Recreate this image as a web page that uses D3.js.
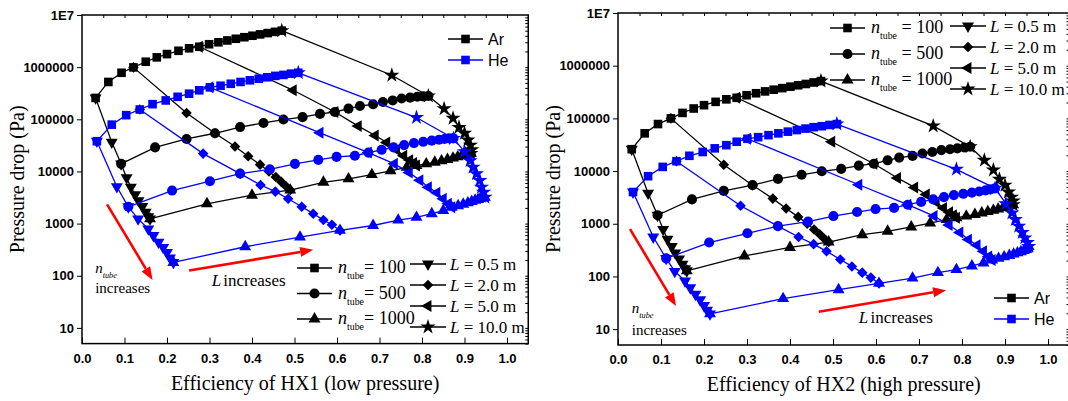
<!DOCTYPE html>
<html>
<head>
<meta charset="utf-8">
<script src="https://cdn.jsdelivr.net/npm/d3@7"></script>
<style>
  body { margin: 0; background: #fff; }
  svg { display: block; }
</style>
</head>
<body>
<svg id="chart" width="1068" height="401"></svg>
<script>
// ---------- Data ----------
// tube length steps of the n_tube curves (m)
const lengths = [0.5, 1, 1.5, 2, 2.5, 3, 3.5, 4, 4.5, 5, 5.5, 6, 6.5, 7, 7.5, 8, 8.5, 9, 9.5, 10];
const nTubes = [100, 500, 1000];
const lengthCurves = [0.5, 2.0, 5.0, 10.0];
const effTicks = [0, 0.1, 0.2, 0.3, 0.4, 0.5, 0.6, 0.7, 0.8, 0.9, 1.0];
const dropTicks = [10, 100, 1000, 10000, 100000, 1000000, 10000000];
const dropLabels = ['10', '100', '1000', '10000', '100000', '1000000', '1E7'];

// HX1 (low pressure) -- [efficiency, pressure drop Pa], one point per length
const hx1ArN100 = [[0.032,2.57e5],[0.062,5.2e5],[0.093,7.8e5],[0.121,9.9e5],[0.150,1.27e6],[0.176,1.54e6],[0.200,1.78e6],[0.227,2.06e6],[0.252,2.3e6],[0.276,2.46e6],[0.299,2.75e6],[0.321,3.0e6],[0.342,3.25e6],[0.362,3.5e6],[0.382,3.75e6],[0.401,4.0e6],[0.419,4.25e6],[0.437,4.5e6],[0.454,4.75e6],[0.470,5.0e6]];
const hx1ArN500 = [[0.092,1.4e4],[0.172,2.9e4],[0.246,4.2e4],[0.313,5.4e4],[0.372,7.1e4],[0.427,8.5e4],[0.474,9.9e4],[0.519,1.1e5],[0.560,1.27e5],[0.595,1.38e5],[0.627,1.6e5],[0.654,1.8e5],[0.685,1.94e5],[0.708,2.15e5],[0.731,2.3e5],[0.752,2.5e5],[0.772,2.6e5],[0.789,2.7e5],[0.803,2.75e5],[0.815,2.8e5]];
const hx1ArN1000 = [[0.160,1.23e3],[0.294,2.4e3],[0.400,3.5e3],[0.490,4.4e3],[0.568,6.2e3],[0.627,7.2e3],[0.682,8.7e3],[0.726,1.03e4],[0.764,1.2e4],[0.787,1.3e4],[0.810,1.4e4],[0.830,1.5e4],[0.846,1.6e4],[0.860,1.7e4],[0.873,1.8e4],[0.884,1.9e4],[0.893,2.0e4],[0.901,2.1e4],[0.908,2.15e4],[0.915,2.2e4]];
// length curves: point at n_tube = 300, then the points between n_tube = 500 and 1000
const hx1ArL05 = [[0.070,3.65e4],[0.105,7.6e3],[0.115,5.0e3],[0.125,3.6e3],[0.133,2.76e3],[0.142,2.13e3],[0.150,1.66e3],[0.156,1.36e3]];
const hx1ArL2 = [[0.246,1.32e5],[0.360,3.0e4],[0.391,1.95e4],[0.419,1.35e4],[0.440,1.0e4],[0.456,7.8e3],[0.469,6.3e3],[0.480,5.2e3]];
const hx1ArL5 = [[0.497,3.6e5],[0.650,7.4e4],[0.690,4.9e4],[0.717,3.6e4],[0.740,2.6e4],[0.757,2.0e4],[0.771,1.65e4],[0.780,1.45e4]];
const hx1ArL10 = [[0.729,7.0e5],[0.852,1.6e5],[0.873,1.05e5],[0.887,7.0e4],[0.900,5.4e4],[0.908,4.0e4],[0.914,3.2e4],[0.917,2.6e4]];

const hx1HeN100 = [[0.035,3.8e4],[0.070,7.9e4],[0.104,1.2e5],[0.136,1.54e5],[0.166,1.95e5],[0.197,2.3e5],[0.225,2.7e5],[0.252,3.1e5],[0.276,3.6e5],[0.301,4.1e5],[0.326,4.4e5],[0.350,4.8e5],[0.373,5.2e5],[0.395,5.6e5],[0.416,6.0e5],[0.436,6.4e5],[0.455,6.8e5],[0.474,7.1e5],[0.492,7.5e5],[0.509,7.8e5]];
const hx1HeN500 = [[0.109,2.1e3],[0.212,4.3e3],[0.301,6.5e3],[0.372,9.1e3],[0.442,1.1e4],[0.501,1.4e4],[0.556,1.67e4],[0.599,1.9e4],[0.642,2.0e4],[0.674,2.3e4],[0.705,2.6e4],[0.733,2.9e4],[0.758,3.2e4],[0.781,3.5e4],[0.803,3.7e4],[0.823,3.9e4],[0.840,4.05e4],[0.853,4.2e4],[0.864,4.3e4],[0.874,4.3e4]];
const hx1HeN1000 = [[0.215,180],[0.384,360],[0.513,550],[0.607,740],[0.685,920],[0.744,1170],[0.787,1320],[0.823,1550],[0.850,1780],[0.870,2050],[0.885,2200],[0.897,2350],[0.908,2500],[0.917,2650],[0.925,2800],[0.932,2900],[0.937,3000],[0.942,3100],[0.946,3150],[0.948,3200]];
const hx1HeL05 = [[0.082,5.1e3],[0.132,1.23e3],[0.156,790],[0.168,590],[0.180,440],[0.191,350],[0.200,280],[0.207,220]];
const hx1HeL2 = [[0.285,2.2e4],[0.420,5.5e3],[0.455,4.1e3],[0.485,3.0e3],[0.517,2.1e3],[0.544,1.55e3],[0.568,1.17e3],[0.588,950]];
const hx1HeL5 = [[0.560,5.5e4],[0.735,1.4e4],[0.770,9.5e3],[0.795,6.8e3],[0.815,5.0e3],[0.835,3.9e3],[0.850,3.0e3],[0.862,2.4e3]];
const hx1HeL10 = [[0.787,1.08e5],[0.900,2.4e4],[0.913,1.6e4],[0.920,1.2e4],[0.928,9.0e3],[0.936,6.7e3],[0.940,5.0e3],[0.945,4.0e3]];

// HX2 (high pressure)
const hx2ArN100 = [[0.032,2.6e4],[0.062,5.2e4],[0.093,7.8e4],[0.123,1.0e5],[0.150,1.27e5],[0.176,1.54e5],[0.200,1.78e5],[0.227,2.06e5],[0.252,2.3e5],[0.276,2.46e5],[0.299,2.75e5],[0.321,3.0e5],[0.342,3.25e5],[0.362,3.5e5],[0.382,3.75e5],[0.401,4.0e5],[0.419,4.25e5],[0.437,4.5e5],[0.455,4.8e5],[0.472,5.1e5]];
const hx2ArN500 = [[0.092,1.45e3],[0.172,2.9e3],[0.246,4.2e3],[0.313,5.4e3],[0.372,7.1e3],[0.427,8.5e3],[0.474,9.9e3],[0.519,1.1e4],[0.560,1.27e4],[0.595,1.38e4],[0.627,1.6e4],[0.654,1.8e4],[0.685,1.94e4],[0.708,2.15e4],[0.731,2.3e4],[0.752,2.5e4],[0.772,2.6e4],[0.789,2.7e4],[0.805,2.8e4],[0.819,2.9e4]];
const hx2ArN1000 = [[0.160,128],[0.294,245],[0.400,355],[0.490,450],[0.568,620],[0.627,720],[0.682,870],[0.726,1030],[0.764,1200],[0.787,1300],[0.810,1400],[0.830,1500],[0.846,1600],[0.860,1700],[0.873,1800],[0.884,1900],[0.895,2000],[0.904,2100],[0.912,2200],[0.919,2300]];
const hx2ArL05 = [[0.070,3.8e3],[0.105,780],[0.115,510],[0.125,370],[0.133,280],[0.142,215],[0.150,170],[0.156,140]];
const hx2ArL2 = [[0.246,1.32e4],[0.360,3.0e3],[0.391,1.95e3],[0.419,1.35e3],[0.440,1.0e3],[0.456,780],[0.469,630],[0.480,520]];
const hx2ArL5 = [[0.497,3.6e4],[0.650,7.4e3],[0.690,4.9e3],[0.717,3.6e3],[0.740,2.6e3],[0.757,2.0e3],[0.771,1.65e3],[0.780,1.45e3]];
const hx2ArL10 = [[0.733,7.2e4],[0.852,1.6e4],[0.873,1.05e4],[0.887,7.0e3],[0.900,5.4e3],[0.908,4.0e3],[0.915,3.2e3],[0.919,2.7e3]];

const hx2HeN100 = [[0.035,4.0e3],[0.070,8.0e3],[0.104,1.2e4],[0.136,1.54e4],[0.166,1.95e4],[0.197,2.3e4],[0.225,2.7e4],[0.252,3.1e4],[0.276,3.6e4],[0.301,4.1e4],[0.326,4.4e4],[0.350,4.8e4],[0.373,5.2e4],[0.395,5.6e4],[0.416,6.0e4],[0.436,6.4e4],[0.455,6.8e4],[0.474,7.1e4],[0.492,7.5e4],[0.509,7.8e4]];
const hx2HeN500 = [[0.112,220],[0.212,440],[0.301,660],[0.372,900],[0.442,1.1e3],[0.501,1.4e3],[0.556,1.67e3],[0.599,1.9e3],[0.642,2.0e3],[0.674,2.3e3],[0.705,2.6e3],[0.733,2.9e3],[0.758,3.2e3],[0.781,3.5e3],[0.803,3.7e3],[0.823,3.9e3],[0.840,4.1e3],[0.855,4.3e3],[0.866,4.5e3],[0.877,4.7e3]];
const hx2HeN1000 = [[0.214,19.5],[0.384,38],[0.513,56],[0.607,74],[0.685,93],[0.744,118],[0.787,135],[0.823,158],[0.850,180],[0.870,205],[0.885,220],[0.898,235],[0.910,250],[0.920,265],[0.929,280],[0.937,295],[0.944,310],[0.949,325],[0.953,345],[0.955,370]];
const hx2HeL05 = [[0.082,560],[0.132,125],[0.156,82],[0.168,61],[0.180,46],[0.191,36],[0.200,28],[0.207,23]];
const hx2HeL2 = [[0.285,2.2e3],[0.420,560],[0.455,410],[0.485,300],[0.517,210],[0.544,155],[0.568,118],[0.588,95]];
const hx2HeL5 = [[0.560,5.5e3],[0.735,1.4e3],[0.770,950],[0.795,680],[0.815,500],[0.835,390],[0.850,300],[0.862,240]];
const hx2HeL10 = [[0.787,1.08e4],[0.902,2.4e3],[0.916,1.6e3],[0.924,1.2e3],[0.932,900],[0.940,680],[0.946,540],[0.952,440]];

// ---------- Helpers ----------
const svg = d3.select('#chart');
const serif = '"Liberation Serif", "Times New Roman", serif';
const sans = '"Liberation Sans", Arial, sans-serif';
const BLUE = '#0000ff';

const markerStyle = {
    square: { type: d3.symbolSquare, size: 74, rot: 0 },
    circle: { type: d3.symbolCircle, size: 80, rot: 0 },
    up: { type: d3.symbolTriangle, size: 62, rot: 0 },
    down: { type: d3.symbolTriangle, size: 62, rot: 180 },
    diamond: { type: d3.symbolSquare, size: 56, rot: 45 },
    left: { type: d3.symbolTriangle, size: 62, rot: -90 },
    star: { type: d3.symbolStar, size: 72, rot: 0 }
};

function drawMarker(g, kind, cx, cy, color) {
    const m = markerStyle[kind];
    g.append('path')
        .attr('d', d3.symbol().type(m.type).size(m.size)())
        .attr('transform', `translate(${cx},${cy}) rotate(${m.rot})`)
        .attr('fill', color);
}

function drawCurve(g, pts, kind, color, x, y) {
    const line = d3.line().x(d => x(d[0])).y(d => y(d[1]));
    g.append('path').attr('d', line(pts))
        .attr('fill', 'none').attr('stroke', color).attr('stroke-width', 1.3);
    pts.forEach(d => drawMarker(g, kind, x(d[0]), y(d[1]), color));
}

// tube-count label: italic n with "tube" subscript, then the rest
function tubeText(g, tx, ty, rest, size, italicSub) {
    const t = g.append('text').attr('x', tx).attr('y', ty)
        .style('font-family', serif).style('font-size', size + 'px');
    t.append('tspan').text('n').style('font-style', 'italic');
    t.append('tspan').text('tube').attr('dy', size * 0.35)
        .style('font-size', (size * 0.55) + 'px')
        .style('font-style', italicSub ? 'italic' : 'normal');
    if (rest) t.append('tspan').text(rest).attr('dy', -size * 0.35);
    return t;
}

function arrow(g, x1, y1, x2, y2) {
    const ang = Math.atan2(y2 - y1, x2 - x1);
    const hl = 13, hw = 5;
    const bx = x2 - hl * Math.cos(ang), by = y2 - hl * Math.sin(ang);
    g.append('line').attr('x1', x1).attr('y1', y1).attr('x2', bx).attr('y2', by)
        .attr('stroke', '#ff0000').attr('stroke-width', 2.6);
    const px = -Math.sin(ang) * hw, py = Math.cos(ang) * hw;
    g.append('path')
        .attr('d', `M${x2},${y2}L${bx + px},${by + py}L${bx - px},${by - py}Z`)
        .attr('fill', '#ff0000');
}

// ---------- Panel ----------
function drawPanel(p) {
    const x = d3.scaleLinear().domain([0, 1.05]).range([p.left, p.left + 1.05 * p.unit]);
    const y = d3.scaleLog().domain([5, 1e7]).range([p.bottom, p.top]);
    const right = x(1.05);
    const g = svg.append('g');

    // series: Ar first, then He; n_tube curves then length curves
    p.gases.forEach(gas => {
        const nKinds = ['square', 'circle', 'up'];
        gas.n.forEach((pts, i) => drawCurve(g, pts, nKinds[i], gas.color, x, y));
        const lKinds = ['down', 'diamond', 'left', 'star'];
        lengthCurves.forEach((L, i) => {
            const k = lengths.indexOf(L);
            const mid = gas.L[i];
            const pts = [gas.n[0][k], mid[0], gas.n[1][k], ...mid.slice(1), gas.n[2][k]];
            drawCurve(g, pts, lKinds[i], gas.color, x, y);
        });
    });

    // axes
    const fmt = d3.format('.1f');
    const bottom = g.append('g').attr('transform', `translate(0,${p.bottom})`)
        .call(d3.axisBottom(x).tickValues(effTicks).tickFormat(fmt).tickSize(-6).tickPadding(10));
    const left = g.append('g').attr('transform', `translate(${p.left},0)`)
        .call(d3.axisLeft(y).tickValues(dropTicks).tickFormat((d, i) => dropLabels[i]).tickSize(5).tickPadding(3));
    const minorX = d3.range(0, 1.05, 0.05).filter(v => v > 0.001);
    g.append('g').attr('transform', `translate(0,${p.top})`)
        .call(d3.axisTop(x).tickValues(minorX).tickFormat('').tickSize(-3));
    const minorY = [];
    for (let e = 0; e < 7; e++) for (let m = 1; m < 10; m++) {
        const v = m * Math.pow(10, e);
        if (v >= 5 && v <= 1e7) minorY.push(v);
    }
    g.append('g').attr('transform', `translate(${right},0)`)
        .call(d3.axisRight(y).tickValues(minorY).tickFormat('').tickSize(-3));
    g.selectAll('.domain').remove();
    g.selectAll('.tick line').attr('stroke', '#000').attr('stroke-width', 1);
    [bottom, left].forEach(a => a.selectAll('text')
        .style('font-family', sans).style('font-weight', 'bold').style('font-size', '13px').attr('fill', '#000'));
    g.append('rect').attr('x', p.left).attr('y', p.top)
        .attr('width', right - p.left).attr('height', p.bottom - p.top)
        .attr('fill', 'none').attr('stroke', '#000').attr('stroke-width', 1.5);

    // axis titles
    g.append('text').attr('x', (p.left + right) / 2).attr('y', p.bottom + 46)
        .attr('text-anchor', 'middle').style('font-family', serif).style('font-size', '20px')
        .text(p.xTitle);
    g.append('text')
        .attr('transform', `translate(${p.left - 58},${(p.top + p.bottom) / 2}) rotate(-90)`)
        .attr('text-anchor', 'middle').style('font-family', serif).style('font-size', '20px')
        .text('Pressure drop (Pa)');

    // gas legend
    const gl = p.gasLegend;
    p.gases.forEach((gas, i) => {
        const ly = p.top + gl.dy + i * 21;
        g.append('line').attr('x1', p.left + gl.dx).attr('x2', p.left + gl.dx + 35)
            .attr('y1', ly).attr('y2', ly).attr('stroke', gas.color).attr('stroke-width', 1.3);
        drawMarker(g, 'square', p.left + gl.dx + 17.5, ly, gas.color);
        g.append('text').attr('x', p.left + gl.dx + 40).attr('y', ly + 6)
            .style('font-family', sans).style('font-size', '16px').text(gas.name);
    });

    // n_tube legend
    const nl = p.nLegend;
    ['square', 'circle', 'up'].forEach((kind, i) => {
        const ly = p.top + nl.dy + i * nl.step;
        g.append('line').attr('x1', p.left + nl.dx).attr('x2', p.left + nl.dx + 35)
            .attr('y1', ly).attr('y2', ly).attr('stroke', '#000').attr('stroke-width', 1.3);
        drawMarker(g, kind, p.left + nl.dx + 17.5, ly, '#000');
        tubeText(g, p.left + nl.dx + 41, ly + 5, nl.gap + '= ' + nTubes[i], 18, false);
    });

    // length legend
    const ll = p.lLegend;
    ['down', 'diamond', 'left', 'star'].forEach((kind, i) => {
        const ly = p.top + ll.dy + i * ll.step;
        g.append('line').attr('x1', p.left + ll.dx).attr('x2', p.left + ll.dx + 36)
            .attr('y1', ly).attr('y2', ly).attr('stroke', '#000').attr('stroke-width', 1.3);
        drawMarker(g, kind, p.left + ll.dx + 18, ly, '#000');
        const t = g.append('text').attr('x', p.left + ll.dx + 40).attr('y', ly + 6)
            .style('font-family', serif).style('font-size', '17px');
        t.append('tspan').text('L').style('font-style', 'italic');
        t.append('tspan').text(' = ' + d3.format('.1f')(lengthCurves[i]) + ' m');
    });

    // annotations
    const a = p.notes;
    arrow(g, x(a.nArrow[0]), y(a.nArrow[1]), x(a.nArrow[2]), y(a.nArrow[3]));
    arrow(g, x(a.lArrow[0]), y(a.lArrow[1]), x(a.lArrow[2]), y(a.lArrow[3]));
    tubeText(g, x(a.nText[0]), y(a.nText[1]), '', 15, true);
    g.append('text').attr('x', x(a.nText[0])).attr('y', y(a.nText[2]))
        .style('font-family', serif).style('font-size', '15px').text('increases');
    const lt = g.append('text').attr('x', x(a.lText[0])).attr('y', y(a.lText[1]))
        .style('font-family', serif).style('font-size', '17px');
    lt.append('tspan').text('L').style('font-style', 'italic');
    lt.append('tspan').text(' increases').attr('dx', -2);
}

drawPanel({
    left: 82, unit: 425, top: 15, bottom: 343.6,
    xTitle: 'Efficiency of HX1 (low pressure)',
    gases: [
        { name: 'Ar', color: '#000', n: [hx1ArN100, hx1ArN500, hx1ArN1000], L: [hx1ArL05, hx1ArL2, hx1ArL5, hx1ArL10] },
        { name: 'He', color: BLUE, n: [hx1HeN100, hx1HeN500, hx1HeN1000], L: [hx1HeL05, hx1HeL2, hx1HeL5, hx1HeL10] }
    ],
    gasLegend: { dx: 366, dy: 24 },
    nLegend: { dx: 215, dy: 253, step: 25.5, gap: '' },
    lLegend: { dx: 328, dy: 249, step: 21 },
    notes: {
        nArrow: [0.059, 2340, 0.166, 83],
        lArrow: [0.252, 126, 0.544, 315],
        nText: [0.031, 115, 47],
        lText: [0.305, 64]
    }
});

drawPanel({
    left: 618, unit: 430, top: 13, bottom: 345,
    xTitle: 'Efficiency of HX2 (high pressure)',
    gases: [
        { name: 'Ar', color: '#000', n: [hx2ArN100, hx2ArN500, hx2ArN1000], L: [hx2ArL05, hx2ArL2, hx2ArL5, hx2ArL10] },
        { name: 'He', color: BLUE, n: [hx2HeN100, hx2HeN500, hx2HeN1000], L: [hx2HeL05, hx2HeL2, hx2HeL5, hx2HeL10] }
    ],
    gasLegend: { dx: 376, dy: 285 },
    nLegend: { dx: 212, dy: 15, step: 26, gap: ' ' },
    lLegend: { dx: 332, dy: 13, step: 21 },
    notes: {
        nArrow: [0.028, 790, 0.135, 27.5],
        lArrow: [0.467, 21.4, 0.763, 55],
        nText: [0.032, 20.4, 7.8],
        lText: [0.56, 13]
    }
});
</script>
</body>
</html>
